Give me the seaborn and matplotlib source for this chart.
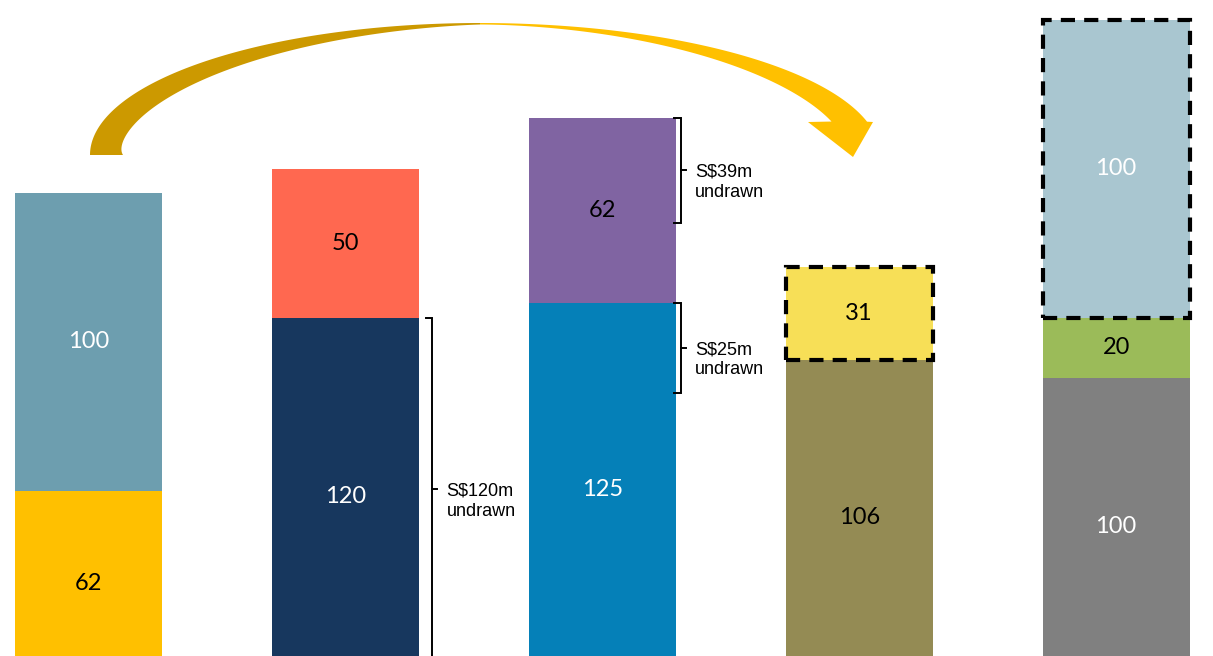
import numpy as np
import pandas as pd
import matplotlib
matplotlib.use("Agg")
import matplotlib.pyplot as plt
import matplotlib.transforms as mtransforms
from matplotlib.patches import Polygon, Rectangle
import seaborn as sns

plt.rcParams['font.family'] = ['Lato', 'DejaVu Sans']

# data
bars = ["Bar 1", "Bar 2", "Bar 3", "Bar 4", "Bar 5"]
base_vals = [62, 120, 125, 106, 100]
mid_vals = [100, 50, 62, 31, 20]
top_vals = [np.nan, np.nan, np.nan, np.nan, 100]

base_colors = ['#FFC000', '#17375E', '#0580B8', '#948B54', '#808080']
mid_colors = ['#6D9EAF', '#FF6850', '#8064A2', '#F7DF57', '#9BBB59']
top_colors = ['#A9C6D0'] * 5

base_text = ['black', 'white', 'white', 'black', 'white']
mid_text = ['white', 'black', 'black', 'black', 'black']
top_text = ['white'] * 5

mid_dashed = [False, False, False, True, False]
top_dashed = [False, False, False, False, True]

bracket_bar = [1, 2, 2]
bracket_top = [120, 187, 125]
bracket_bottom = [5, 152, 95]
bracket_text = ["S$120m\nundrawn", "S$39m\nundrawn", "S$25m\nundrawn"]

W, H = 1213, 656
fig = plt.figure(figsize=(W / 100, H / 100), dpi=100)
ax = fig.add_axes([0, 0, 1, 1])
bw = 0.572

base = np.array(base_vals, dtype=float)
mid = np.array(mid_vals, dtype=float)
top = np.array(top_vals, dtype=float)
layers = [
    (base + mid + top, top_colors),
    (base + mid, mid_colors),
    (base, base_colors),
]
for cum, cols in layers:
    df = pd.DataFrame({'bar': bars, 'total': cum})
    sns.barplot(data=df, x='bar', y='total', hue='bar', order=bars, hue_order=bars,
                palette=dict(zip(bars, cols)), legend=False, saturation=1,
                width=bw, linewidth=0, ax=ax)

# segment labels and dashed outlines
segs = [(np.zeros(5), base, base_text, [False] * 5),
        (base, mid, mid_text, mid_dashed),
        (base + mid, top, top_text, top_dashed)]
for bottom, vals, tcols, dashed in segs:
    for i in range(len(bars)):
        if np.isnan(vals[i]):
            continue
        ax.text(i, bottom[i] + vals[i] / 2, f"{vals[i]:.0f}", ha='center', va='center',
                fontsize=17, color=tcols[i])
        if dashed[i]:
            ax.add_patch(Rectangle((i - bw / 2, bottom[i]), bw, vals[i], fill=False,
                                   edgecolor='black', lw=3, linestyle=(0, (3.4, 2.2)),
                                   zorder=5))

# brackets
offs = [0.337, 0.305, 0.305]
hook = 0.024
for k, i in enumerate(bracket_bar):
    bx = i + offs[k]
    t, b = bracket_top[k], bracket_bottom[k]
    m = (t + b) / 2
    ax.plot([bx - hook, bx, bx, bx - hook], [t, t, b, b], color='black', lw=1.4,
            solid_joinstyle='miter')
    ax.plot([bx, bx + hook * 0.8], [m, m], color='black', lw=1.4)
    ax.annotate(bracket_text[k], xy=(bx, m), xytext=(10.5, -8.5), textcoords='offset points',
                ha='left', va='center', fontsize=13, family='Liberation Sans',
                linespacing=1.25)

# curved arrow (pixel coordinates, y down)
px = mtransforms.Affine2D().scale(1 / W, -1 / H).translate(0, 1) + fig.transFigure
cx, cy = 480, 155


def edge(phi, a, b, w):
    x = cx + a * np.cos(phi)
    y = cy - b * np.sin(phi)
    nx, ny = -np.cos(phi) / a, np.sin(phi) / b
    n = np.hypot(nx, ny)
    return x, y, x + w * nx / n, y + w * ny / n


phi = np.linspace(np.pi, np.pi / 2, 100)
w = 1.5 + 31.5 * ((phi - np.pi / 2) / (np.pi / 2)) ** 1.1
ox, oy, ix, iy = edge(phi, 390, 132, w)
left = np.vstack([np.column_stack([ox, oy]), np.column_stack([ix, iy])[::-1]])
ax.add_patch(Polygon(left, closed=True, facecolor='#CC9900', edgecolor='none',
                     transform=px, clip_on=False))

phi_end = np.radians(14.5)
phi = np.linspace(np.pi / 2, np.radians(5), 160)
w = 1.5 + 28 * np.clip((np.pi / 2 - phi) / (np.pi / 2 - phi_end), 0, None) ** 1.5
ox, oy, ix, iy = edge(phi, 400, 132, w)
outer = np.column_stack([ox, oy])[oy <= 122]
inner = np.column_stack([ix, iy])[iy <= 122]
head = np.array([[873, 122], [853, 157], [808, 122]])
right = np.vstack([outer, head, inner[::-1]])
ax.add_patch(Polygon(right, closed=True, facecolor='#FFC000', edgecolor='none',
                     transform=px, clip_on=False))

ax.set_xlim(-0.344, 4.377)
ax.set_ylim(6.6, 226.7)
ax.axis('off')
fig.savefig('out.png', dpi=100)
